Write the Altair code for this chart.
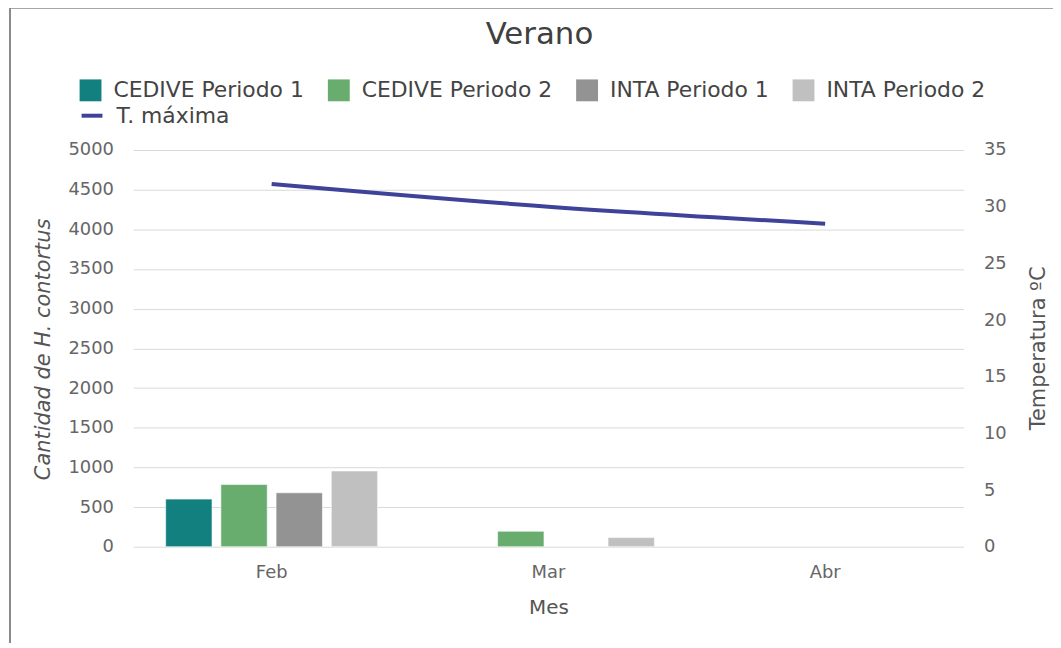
import altair as alt
import pandas as pd

months = ["Feb", "Mar", "Abr"]
series = ["CEDIVE Periodo 1", "CEDIVE Periodo 2", "INTA Periodo 1", "INTA Periodo 2"]
cedive_p1 = [600, 0, 0]
cedive_p2 = [785, 195, 0]
inta_p1 = [680, 0, 0]
inta_p2 = [955, 115, 0]
t_max = [32.0, 30.0, 28.5]
bar_colors = ["#138080", "#69ad6e", "#939393", "#c0c0c0"]
line_color = "#3f4299"

rows = []
for s, vals in zip(series, [cedive_p1, cedive_p2, inta_p1, inta_p2]):
    for m, v in zip(months, vals):
        rows.append({"Mes": m, "Serie": s, "Cantidad": v})
bars_df = pd.DataFrame(rows)
line_df = pd.DataFrame({"Mes": months, "Temp": t_max, "Serie": ["T. máxima"] * 3})

FONT = "DejaVu Sans"

x_enc = alt.X(
    "Mes:N",
    sort=months,
    scale=alt.Scale(domain=months, paddingInner=0.234, paddingOuter=0.117),
    axis=alt.Axis(
        title="Mes",
        labelAngle=0,
        domain=False,
        ticks=False,
        labelPadding=17,
        labelFontSize=18,
        labelColor="#666666",
        titleFontSize=20,
        titleFontWeight="normal",
        titleColor="#555555",
        titlePadding=16,
    ),
)

bars = (
    alt.Chart(bars_df)
    .transform_filter("datum.Cantidad > 0")
    .mark_bar(stroke="white", strokeWidth=1, strokeOpacity=0.6)
    .encode(
        x=x_enc,
        xOffset=alt.XOffset("Serie:N", sort=series, scale=alt.Scale(domain=series, paddingInner=0.16, paddingOuter=0)),
        y=alt.Y(
            "Cantidad:Q",
            scale=alt.Scale(domain=[0, 5000], nice=False),
            axis=alt.Axis(
                values=list(range(0, 5001, 500)),
                format="d",
                title="Cantidad de H. contortus",
                titleFontStyle="italic",
                titleFontWeight="normal",
                titleFontSize=21,
                titleColor="#555555",
                titleAngle=270,
                titleX=-84,
                titleY=200,
                titleBaseline="alphabetic",
                titleAlign="center",
                grid=True,
                gridColor="#d9d9d9",
                domain=False,
                ticks=False,
                labelPadding=20,
                labelFontSize=18,
                labelColor="#666666",
            ),
        ),
        color=alt.Color(
            "Serie:N",
            sort=series,
            scale=alt.Scale(domain=series, range=bar_colors),
            legend=alt.Legend(
                title=None,
                orient="none",
                direction="horizontal",
                legendX=-54,
                legendY=-71,
                symbolType="square",
                symbolSize=484,
                symbolStrokeWidth=0,
                labelFontSize=22,
                labelColor="#444444",
                labelOffset=12,
                labelLimit=0,
                columnPadding=23.7,
                padding=0,
            ),
        ),
    )
)

line = alt.Chart(line_df).mark_line(strokeWidth=4, interpolate="monotone").encode(
    x=x_enc,
    y=alt.Y(
        "Temp:Q",
        scale=alt.Scale(domain=[0, 35], nice=False),
        axis=alt.Axis(
            orient="right",
            values=list(range(0, 36, 5)),
            title="Temperatura ºC",
            titleFontWeight="normal",
            titleFontSize=21,
            titleColor="#555555",
            titleAngle=270,
            titleX=81,
            titleY=199,
            titleBaseline="alphabetic",
            titleAlign="center",
            grid=False,
            domain=False,
            ticks=False,
            labelPadding=20,
            labelFontSize=18,
            labelColor="#666666",
        ),
    ),
    stroke=alt.Stroke(
        "Serie:N",
        scale=alt.Scale(domain=["T. máxima"], range=[line_color]),
        legend=alt.Legend(
            title=None,
            orient="none",
            legendX=-54,
            legendY=-47,
            symbolType="stroke",
            symbolSize=441,
            symbolStrokeWidth=4,
            labelFontSize=22,
            labelColor="#444444",
            labelOffset=12,
            labelLimit=0,
            padding=0,
        ),
    ),
)

one = pd.DataFrame({"k": [0]})
border_left = alt.Chart(one).mark_rule(color="#8a8a8a", strokeWidth=2).encode(
    x=alt.value(-124), y=alt.value(-143), y2=alt.value(500)
)
border_top = alt.Chart(one).mark_rule(color="#8a8a8a", strokeWidth=2).encode(
    x=alt.value(-125), x2=alt.value(930), y=alt.value(-143)
)

chart = (
    alt.layer(bars, line, border_left, border_top)
    .resolve_scale(y="independent", color="independent")
    .properties(
        width=835,
        height=399,
        title=alt.TitleParams(
            "Verano",
            fontSize=31,
            font=FONT,
            fontWeight="normal",
            color="#404040",
            anchor="middle",
            dx=-9,
            offset=-44,
        ),
        padding={"left": 126, "top": 141, "right": 90, "bottom": 95},
        autosize=alt.AutoSizeParams(type="none"),
    )
    .configure(font=FONT)
    .configure_view(stroke=None)
)

chart.save("out.html", embed_options={"renderer": "svg", "actions": False})
